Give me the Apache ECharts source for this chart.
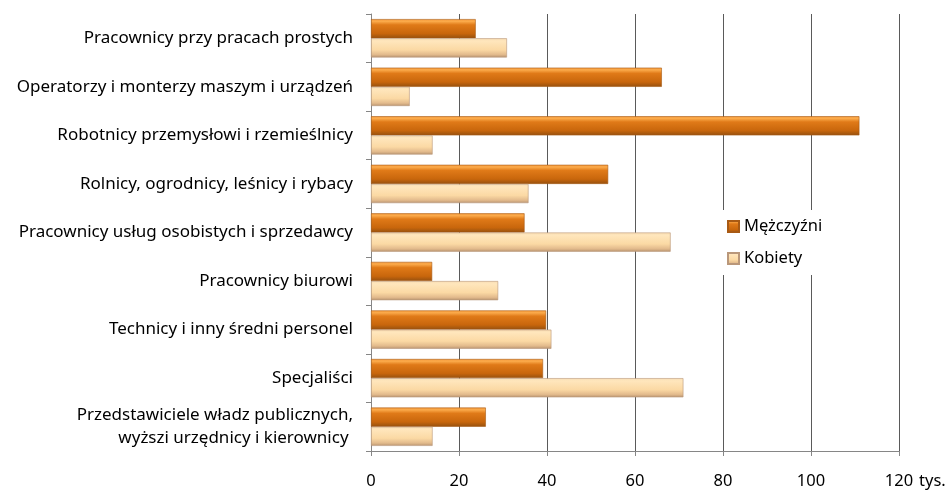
<!DOCTYPE html>
<html>
<head>
<meta charset="utf-8">
<script src="https://cdn.jsdelivr.net/npm/echarts@6/dist/echarts.min.js"></script>
<style>
  html, body { margin: 0; padding: 0; background: #fff; }
  #chart { width: 949px; height: 490px; }
</style>
</head>
<body>
<div id="chart"></div>
<script>
// kategorie zawodowe (od góry do dołu)
var kategorie = [
    'Pracownicy przy pracach prostych',
    'Operatorzy i monterzy maszym i urządzeń',
    'Robotnicy przemysłowi i rzemieślnicy',
    'Rolnicy, ogrodnicy, leśnicy i rybacy',
    'Pracownicy usług osobistych i sprzedawcy',
    'Pracownicy biurowi',
    'Technicy i inny średni personel',
    'Specjaliści',
    'Przedstawiciele władz publicznych,\nwyższi urzędnicy i kierownicy '
];
var mezczyzni = [23.8, 66.1, 111.0, 53.9, 34.9, 13.9, 39.8, 39.1, 26.1];
var kobiety = [30.9, 8.8, 14.0, 35.8, 68.1, 28.9, 41.0, 71.0, 14.0];
var osX = [0, 20, 40, 60, 80, 100, 120];

var font = 'Noto Sans';
var rozmiar = 16.5;

function gradient(stops) {
    return new echarts.graphic.LinearGradient(0, 0, 0, 1, stops);
}

var kolorM = gradient([
    { offset: 0, color: '#F59A3C' },
    { offset: 0.12, color: '#FBAA4A' },
    { offset: 0.3, color: '#E07A18' },
    { offset: 0.75, color: '#C8660C' },
    { offset: 1, color: '#95500F' }
]);
var kolorK = gradient([
    { offset: 0, color: '#F8DDB4' },
    { offset: 0.15, color: '#FFE6BC' },
    { offset: 0.6, color: '#FBD9A4' },
    { offset: 0.85, color: '#E2BA8C' },
    { offset: 1, color: '#B89470' }
]);

var myChart = echarts.init(document.getElementById('chart'));

var option = {
    animation: false,
    textStyle: { fontFamily: font },
    grid: {
        left: 371,
        right: 50,
        top: 14,
        bottom: 33,
        containLabel: false
    },
    legend: {
        orient: 'vertical',
        left: 719,
        top: 210,
        padding: [8, 8, 8, 8],
        backgroundColor: '#fff',
        itemWidth: 11,
        itemHeight: 11,
        itemGap: 15,
        icon: 'rect',
        textStyle: { fontFamily: font, fontSize: rozmiar, color: '#000' },
        data: ['Mężczyźni', 'Kobiety']
    },
    xAxis: {
        type: 'value',
        min: osX[0],
        max: osX[osX.length - 1],
        interval: 20,
        name: 'tys.',
        nameLocation: 'end',
        nameGap: 13,
        nameTextStyle: {
            fontFamily: font, fontSize: rozmiar, color: '#000',
            verticalAlign: 'top', padding: [22, 0, 0, 0]
        },
        axisLine: { show: true, lineStyle: { color: '#868686', width: 1 } },
        axisTick: { show: true, length: 5, lineStyle: { color: '#868686' } },
        axisLabel: { fontFamily: font, fontSize: rozmiar, color: '#000', margin: 22 },
        splitLine: { show: true, lineStyle: { color: '#5a5a5a', width: 1 } }
    },
    yAxis: {
        type: 'category',
        inverse: true,
        data: kategorie,
        axisLine: { show: true, lineStyle: { color: '#868686', width: 1 } },
        axisTick: { show: true, length: 5, lineStyle: { color: '#868686' } },
        axisLabel: { fontFamily: font, fontSize: 17, color: '#000', margin: 18, lineHeight: 23 },
        splitLine: { show: false }
    },
    series: [
        {
            name: 'Mężczyźni',
            type: 'bar',
            data: mezczyzni,
            barGap: '0%',
            barCategoryGap: '21%',
            itemStyle: { color: kolorM, borderColor: '#A85A14', borderWidth: 0.6 }
        },
        {
            name: 'Kobiety',
            type: 'bar',
            data: kobiety,
            itemStyle: { color: kolorK, borderColor: '#B9977A', borderWidth: 0.6 }
        }
    ]
};

myChart.setOption(option);
</script>
</body>
</html>
